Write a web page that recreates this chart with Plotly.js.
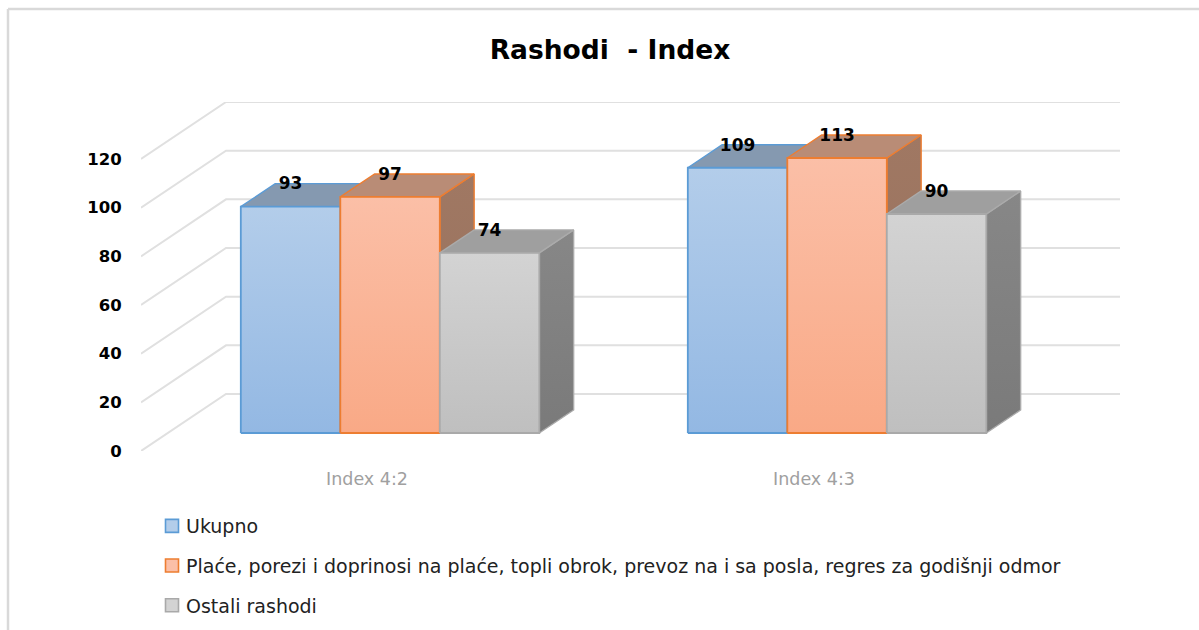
<!DOCTYPE html>
<html>
<head>
<meta charset="utf-8">
<script src="https://cdn.plot.ly/plotly-3.0.1.min.js"></script>
<style>html,body{margin:0;padding:0;background:#fff;overflow:hidden}#chart{width:1199px;height:630px}</style>
</head>
<body>
<div id="chart"></div>
<script>
const categories = ['Index 4:2', 'Index 4:3'];
const seriesNames = ['Ukupno', 'Plaće, porezi i doprinosi na plaće, topli obrok, prevoz na i sa posla, regres za godišnji odmor', 'Ostali rashodi'];
const ukupno = [93, 109];
const place = [97, 113];
const ostali = [74, 90];
const yTicks = [0, 20, 40, 60, 80, 100, 120];
const titleText = 'Rashodi  - Index';

const W = 1199, H = 630;
const M = {l: 141, r: 79, t: 102, b: 179, autoexpand: false};
const FONT = '"DejaVu Sans", sans-serif';
const PX_CAT = 447, PX_VAL = 292 / 120;
const xMin = (141 - 367) / PX_CAT, xMax = (1120 - 367) / PX_CAT;
const yMax = (451 - 102) / PX_VAL;
const DX = 85 / PX_CAT, DY = 57 / PX_VAL;      // oblique projection of the full depth
const D_FRONT = 0.316, D_BACK = 0.72;          // where bars sit in the depth
const BAR_W = 99.5 / PX_CAT, BAR_SHIFT = -0.0085;

const styles = [
  {line: '#5b9bd5', g0: '#b3cdea', g1: '#93b8e3', top: '#8599b0', s0: '#6c8db0', s1: '#5d7d9f', topLine: '#5b9bd5'},
  {line: '#ed7d31', g0: '#fbbfa7', g1: '#f9a986', top: '#b98c76', s0: '#a07863', s1: '#96705c', topLine: '#ed7d31'},
  {line: '#a9a9a9', g0: '#d3d3d3', g1: '#bfbfbf', top: '#9f9f9f', s0: '#878787', s1: '#7a7a7a', topLine: '#ababab'}
];
const seriesValues = [ukupno, place, ostali];

function pr(x, v, d) { return [x + d * DX, v + d * DY]; }
function poly(pts, fill, line, grad, width) {
  const t = {
    type: 'scatter', mode: 'lines', x: pts.map(p => p[0]), y: pts.map(p => p[1]),
    fill: 'toself', line: {color: line, width: width || 1.4}, hoverinfo: 'skip',
    showlegend: false, cliponaxis: false
  };
  if (grad) t.fillgradient = {type: 'vertical', colorscale: [[0, grad[1]], [1, grad[0]]]};
  else t.fillcolor = fill;
  return t;
}

const traces = [];
// walls
yTicks.forEach(v => {
  const a = pr(xMin, v, 0), b = pr(xMin, v, 1), c = [xMax, b[1]];
  traces.push({type: 'scatter', mode: 'lines', x: [a[0], b[0], c[0]], y: [a[1], b[1], c[1]],
    line: {color: '#e0e0e0', width: 2}, hoverinfo: 'skip', showlegend: false, cliponaxis: false});
});
// bars
const labelX = [], labelY = [], labelT = [];
categories.forEach((cat, c) => {
  seriesValues.forEach((vals, i) => {
    const st = styles[i], v = vals[c];
    const x0 = c + BAR_SHIFT - 1.5 * BAR_W + i * BAR_W, x1 = x0 + BAR_W;
    const fb = pr(x0, 0, D_FRONT), fb2 = pr(x1, 0, D_FRONT), ft = pr(x0, v, D_FRONT), ft2 = pr(x1, v, D_FRONT);
    const bb2 = pr(x1, 0, D_BACK), bt = pr(x0, v, D_BACK), bt2 = pr(x1, v, D_BACK);
    traces.push(poly([fb2, bb2, bt2, ft2, fb2], null, st.topLine, [st.s0, st.s1]));
    traces.push(poly([ft, bt, bt2, ft2, ft], st.top, st.topLine));
    traces.push(poly([fb, fb2, ft2, ft, fb], null, st.line, [st.g0, st.g1], 1.8));
    labelX.push((ft[0] + ft2[0]) / 2);
    labelY.push(ft[1] + 21.5 / PX_VAL);
    labelT.push(String(v));
  });
});
traces.push({type: 'scatter', mode: 'text', x: labelX, y: labelY, text: labelT, textposition: 'middle center',
  textfont: {family: FONT, size: 17, color: '#000', weight: 700}, hoverinfo: 'skip', showlegend: false, cliponaxis: false});
// legend entries
seriesNames.forEach((n, i) => {
  traces.push({type: 'scatter', mode: 'markers', name: n, legendgroup: 'g' + i, x: [null], y: [null],
    marker: {symbol: 'square', size: 13, color: styles[i].g0, line: {color: styles[i].line, width: 1.6}}, hoverinfo: 'skip'});
});

const layout = {
  width: W, height: H, margin: M, paper_bgcolor: '#fff', plot_bgcolor: 'rgba(0,0,0,0)',
  title: {text: '<b>' + titleText + '</b>', x: 610 / W, xanchor: 'center', y: 1 - 50 / H, yanchor: 'middle',
    font: {family: FONT, size: 26.5, color: '#000'}},
  xaxis: {range: [xMin, xMax], tickmode: 'array', tickvals: categories.map((_, i) => i), ticktext: categories,
    showgrid: false, zeroline: false, showline: false, ticks: 'outside', ticklen: 12, tickcolor: 'rgba(0,0,0,0)',
    tickfont: {family: FONT, size: 17.5, color: '#a0a0a0'}, fixedrange: true},
  yaxis: {range: [0, yMax], tickmode: 'array', tickvals: yTicks, ticktext: yTicks.map(String),
    showgrid: false, zeroline: false, showline: false, ticks: 'outside', ticklen: 15, tickcolor: 'rgba(0,0,0,0)',
    tickfont: {family: FONT, size: 16.5, color: '#000', weight: 700}, fixedrange: true},
  legend: {xref: 'container', yref: 'container', x: 146 / W, y: 1 - 507 / H, xanchor: 'left', yanchor: 'top',
    orientation: 'v', tracegroupgap: 12, font: {family: FONT, size: 19, color: '#222'}, bgcolor: 'rgba(0,0,0,0)'},
  shapes: [
    {type: 'line', xref: 'paper', yref: 'paper', x0: (8 - M.l) / (W - M.l - M.r), x1: (8 - M.l) / (W - M.l - M.r),
      y0: (H - M.b - 9) / (H - M.t - M.b), y1: (H - M.b - 640) / (H - M.t - M.b), line: {color: '#d9d9d9', width: 2.5}},
    {type: 'line', xref: 'paper', yref: 'paper', x0: (8 - M.l) / (W - M.l - M.r), x1: (1210 - M.l) / (W - M.l - M.r),
      y0: (H - M.b - 9) / (H - M.t - M.b), y1: (H - M.b - 9) / (H - M.t - M.b), line: {color: '#d9d9d9', width: 2.5}}
  ],
  showlegend: true
};
Plotly.newPlot('chart', traces, layout, {displayModeBar: false, staticPlot: true}).then(() => {
  document.querySelectorAll('#chart .legendpoints').forEach(el => el.setAttribute('transform', 'translate(6,0)'));
});
</script>
</body>
</html>
